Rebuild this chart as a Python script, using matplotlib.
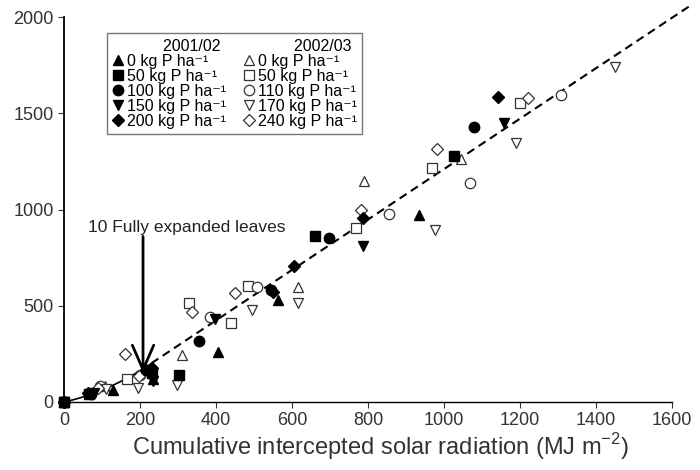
import matplotlib
matplotlib.use("Agg")
import matplotlib.pyplot as plt
import numpy as np
from matplotlib.lines import Line2D

plt.rcParams["font.family"] = ["Liberation Sans", "DejaVu Sans"]
plt.rcParams["mathtext.fontset"] = "custom"
plt.rcParams["mathtext.rm"] = "Liberation Sans"

# 2001/02 season (filled markers)
p0_x = [0, 130, 235, 406, 562, 934]
p0_y = [0, 60, 120, 260, 530, 970]
p50_x = [0, 65, 232, 303, 660, 1026]
p50_y = [0, 40, 150, 140, 862, 1277]
p100_x = [0, 70, 215, 354, 544, 697, 1079]
p100_y = [0, 40, 165, 317, 580, 851, 1428]
p150_x = [0, 80, 235, 398, 786, 1158]
p150_y = [0, 45, 110, 430, 810, 1449]
p200_x = [0, 63, 232, 549, 604, 786, 1142]
p200_y = [0, 45, 175, 571, 706, 955, 1584]

# 2002/03 season (open markers)
q0_x = [0, 108, 311, 615, 789, 1045]
q0_y = [0, 85, 244, 597, 1148, 1262]
q50_x = [0, 166, 330, 440, 485, 768, 968, 1201]
q50_y = [0, 120, 514, 410, 600, 903, 1215, 1552]
q110_x = [0, 95, 200, 383, 509, 855, 1069, 1309]
q110_y = [0, 85, 140, 441, 597, 976, 1137, 1594]
q170_x = [0, 110, 195, 298, 496, 617, 976, 1190, 1449]
q170_y = [0, 70, 75, 90, 478, 514, 893, 1345, 1740]
q240_x = [0, 90, 161, 198, 338, 449, 781, 982, 1222]
q240_y = [0, 75, 249, 135, 467, 566, 997, 1313, 1578]

# fitted model: curved start then linear
slope, intercept, x_break = 1.31, -100.0, 230.0
qa, qb = 0.429, 0.001915

fig = plt.figure(figsize=(7, 4.7), dpi=100)
ax = fig.add_axes([0.0914, 0.1447, 0.8686, 0.8191])

xc = np.linspace(0, x_break, 50)
ax.plot(xc, qa * xc + qb * xc ** 2, color="black", lw=1.2, zorder=1)
xl = np.linspace(x_break, 1650, 50)
ax.plot(xl, slope * xl + intercept, color="black", lw=1.5, ls=(0, (4, 2.5)), zorder=1, clip_on=False)

ms = 7.5
unit = " kg P ha\u207b\u00b9"
filled = [(p0_x, p0_y, "^", "0" + unit),
          (p50_x, p50_y, "s", "50" + unit),
          (p100_x, p100_y, "o", "100" + unit),
          (p150_x, p150_y, "v", "150" + unit),
          (p200_x, p200_y, "D", "200" + unit)]
opened = [(q0_x, q0_y, "^", "0" + unit),
          (q50_x, q50_y, "s", "50" + unit),
          (q110_x, q110_y, "o", "110" + unit),
          (q170_x, q170_y, "v", "170" + unit),
          (q240_x, q240_y, "D", "240" + unit)]

h1 = [Line2D([], [], ls="none", marker=None, label="        2001/02")]
h2 = [Line2D([], [], ls="none", marker=None, label="        2002/03")]
for x, y, m, lab in filled:
    s = 6.5 if m == "D" else ms
    ax.plot(x, y, ls="none", marker=m, ms=s, mfc="black", mec="black", zorder=3, clip_on=False)
    h1.append(Line2D([], [], ls="none", marker=m, ms=s, mfc="black", mec="black", label=lab))
for x, y, m, lab in opened:
    s = 6.5 if m == "D" else ms
    ax.plot(x, y, ls="none", marker=m, ms=s, mfc="white", mec="#333333", mew=0.9, zorder=2, clip_on=False)
    h2.append(Line2D([], [], ls="none", marker=m, ms=s, mfc="white", mec="#333333", mew=0.9, label=lab))

leg = ax.legend(handles=h1 + h2, ncol=2, loc="upper left", bbox_to_anchor=(0.0707, 0.958),
                borderaxespad=0, fontsize=11.5, handlelength=0.7, handletextpad=0.2,
                columnspacing=1.1, labelspacing=0.0, borderpad=0.35, frameon=True, fancybox=False)
leg.get_frame().set_edgecolor("#555555")
leg.get_frame().set_linewidth(1.0)

ax.text(63, 905, "10 Fully expanded leaves", fontsize=12.5, color="#222222", va="center")
ax.annotate("", xy=(208, 150), xytext=(208, 860),
            arrowprops=dict(arrowstyle="->, head_length=0.8, head_width=0.35", color="black", lw=2.0,
                            mutation_scale=22, shrinkA=0, shrinkB=0))

ax.set_xlim(0, 1600)
ax.set_ylim(0, 2000)
ax.set_xticks([0, 200, 400, 600, 800, 1000, 1200, 1400, 1600])
ax.set_yticks([0, 500, 1000, 1500, 2000])
ax.spines["top"].set_visible(False)
ax.spines["right"].set_visible(False)
ax.spines["left"].set_linewidth(1.3)
ax.spines["bottom"].set_linewidth(1.0)
ax.tick_params(labelsize=13, length=4, colors="#333333")
ax.set_xlabel("Cumulative intercepted solar radiation (MJ m$^{-2}$)", fontsize=17, color="#333333",
              labelpad=1)
ax.xaxis.label.set_x(0.52)

fig.savefig("out.png", dpi=100)
